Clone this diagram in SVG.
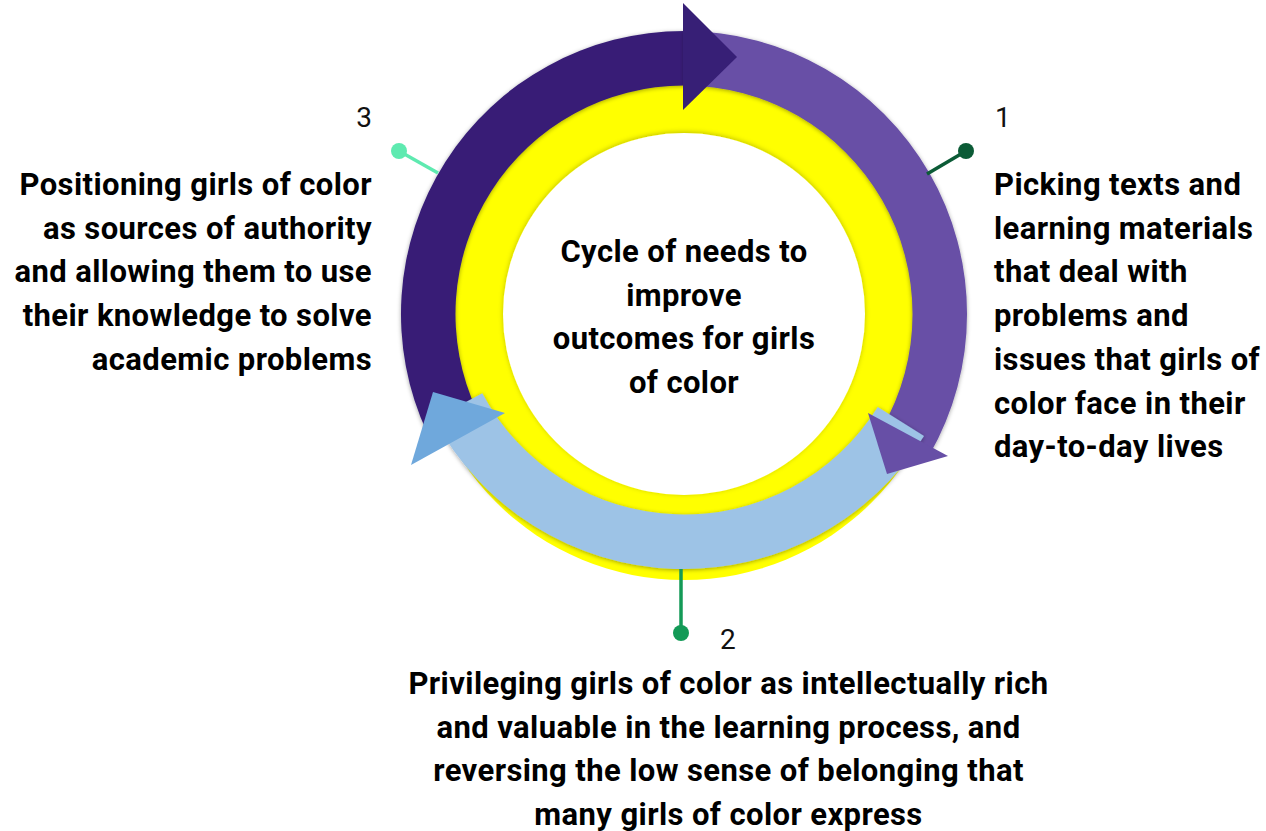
<svg xmlns="http://www.w3.org/2000/svg" width="1266" height="831" viewBox="0 0 1266 831">
<defs>
<filter id="sh" x="-20%" y="-20%" width="140%" height="140%">
<feDropShadow dx="0" dy="1" stdDeviation="2" flood-color="#000" flood-opacity="0.35"/>
</filter>
<filter id="shw" x="-20%" y="-20%" width="140%" height="140%">
<feDropShadow dx="0" dy="-1" stdDeviation="2.5" flood-color="#000" flood-opacity="0.25"/>
</filter>
<style>
.t{font-family:Roboto,"Liberation Sans",sans-serif;font-weight:700;font-size:31px;letter-spacing:0.4px;fill:#000}
.n{font-family:Roboto,"Liberation Sans",sans-serif;font-weight:400;font-size:28px;fill:#111}
.pin{stroke-width:3.5;fill:none}
</style>
</defs>
<rect width="1266" height="831" fill="#fff"/>
<g id="hub">
<circle cx="684" cy="314" r="266" fill="#ffff00"/>
<circle cx="684" cy="314" r="181" fill="#fff" filter="url(#shw)"/>
<text class="t" text-anchor="middle" x="684" y="262">Cycle of needs to</text>
<text class="t" text-anchor="middle" x="684" y="305.7">improve</text>
<text class="t" text-anchor="middle" x="684" y="349.4">outcomes for girls</text>
<text class="t" text-anchor="middle" x="684" y="393">of color</text>
</g>
<g id="connectors">
<path id="arc3" d="M427.5,433.6 A283,283 0 0 1 684,31 L684,85.5 A228.5,228.5 0 0 0 476.9,410.6 Z" fill="#371f76" filter="url(#sh)"/>
<path id="arc1" d="M684,31 A283,283 0 0 1 929.1,455.5 L881.9,428.3 A228.5,228.5 0 0 0 684,85.5 Z" fill="#674fa6" filter="url(#sh)"/>
<path id="arc2" d="M924,436 A283,283 0 0 1 434.1,418.9 L482.3,393.3 A228.5,228.5 0 0 0 877.8,407.1 Z" fill="#9dc3e6" filter="url(#sh)"/>
<polygon points="683,3 737,57 683,110" fill="#371f76"/>
<polygon points="868,413 948,456 887,474" fill="#674fa6"/>
<polygon points="433,392 505,413 411,465" fill="#6fa8dc"/>
<line class="pin" x1="399" y1="151" x2="438" y2="173" stroke="#5eeab0"/>
<line class="pin" x1="966" y1="151" x2="927" y2="174" stroke="#0b5b36"/>
<line class="pin" x1="681" y1="569" x2="681" y2="633" stroke="#139a57"/>
</g>
<g id="step3">
<circle cx="399" cy="151" r="8" fill="#5eeab0"/>
<text class="n" text-anchor="end" x="372" y="127">3</text>
<text class="t" text-anchor="end" x="372" y="195">Positioning girls of color</text>
<text class="t" text-anchor="end" x="372" y="238.7">as sources of authority</text>
<text class="t" text-anchor="end" x="372" y="282.4">and allowing them to use</text>
<text class="t" text-anchor="end" x="372" y="326">their knowledge to solve</text>
<text class="t" text-anchor="end" x="372" y="369.8">academic problems</text>
</g>
<g id="step1">
<circle cx="966" cy="151" r="8" fill="#0b5b36"/>
<text class="n" x="995" y="127">1</text>
<text class="t" x="994" y="195">Picking texts and</text>
<text class="t" x="994" y="238.7">learning materials</text>
<text class="t" x="994" y="282.4">that deal with</text>
<text class="t" x="994" y="326">problems and</text>
<text class="t" x="994" y="369.8">issues that girls of</text>
<text class="t" x="994" y="413.5">color face in their</text>
<text class="t" x="994" y="457.2">day-to-day lives</text>
</g>
<g id="step2">
<circle cx="681" cy="633" r="8" fill="#139a57"/>
<text class="n" x="720" y="649">2</text>
<text class="t" text-anchor="middle" x="728.5" y="694">Privileging girls of color as intellectually rich</text>
<text class="t" text-anchor="middle" x="728.5" y="737.7">and valuable in the learning process, and</text>
<text class="t" text-anchor="middle" x="728.5" y="781.4">reversing the low sense of belonging that</text>
<text class="t" text-anchor="middle" x="728.5" y="825">many girls of color express</text>
</g>
</svg>
